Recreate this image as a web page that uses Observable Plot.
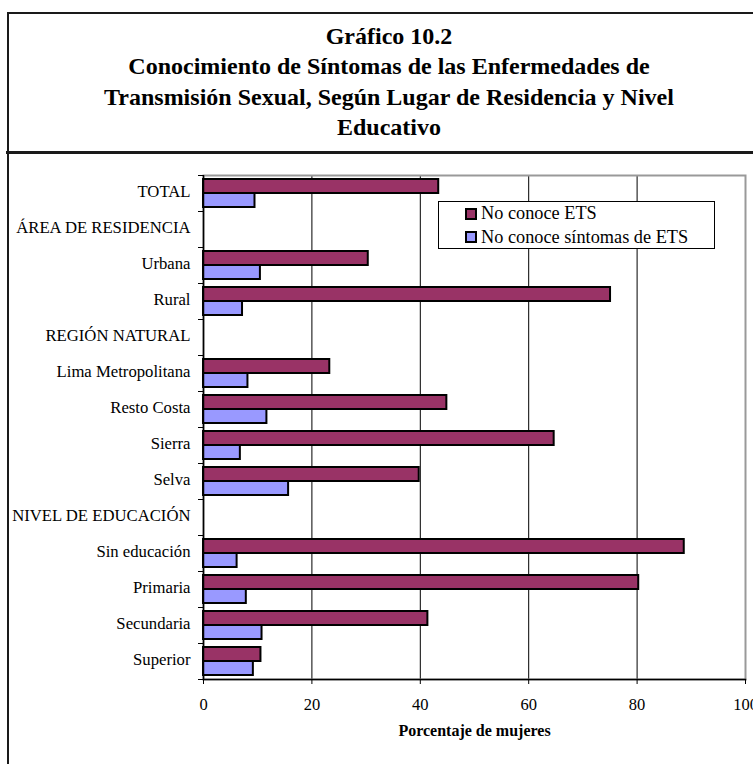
<!DOCTYPE html>
<html>
<head>
<meta charset="utf-8">
<script src="https://cdn.jsdelivr.net/npm/d3@7"></script>
<script src="https://cdn.jsdelivr.net/npm/@observablehq/plot@0.6"></script>
<style>
  html, body { margin: 0; padding: 0; background: #fff; width: 753px; height: 764px; overflow: hidden; }
  body { position: relative; font-family: "Liberation Serif", "Times New Roman", serif; color: #000; }
  .line { position: absolute; background: #1a1a1a; z-index: 6; }
  #title { position: absolute; left: 8px; top: 20.7px; width: 762px; text-align: center;
           font-weight: bold; font-size: 24px; line-height: 30.4px; z-index: 4; }
  #chart { position: absolute; left: 0; top: 153px; z-index: 1; }
  #legend { position: absolute; left: 438px; top: 201px; width: 277px; height: 48px; box-sizing: border-box;
            border: 1px solid #000; background: #fff; z-index: 3; }
  .lrow { position: absolute; left: 26px; height: 22px; display: flex; align-items: center;
          font-size: 18.3px; white-space: nowrap; }
  .sw { width: 12px; height: 12px; box-sizing: border-box; border: 2px solid #000; margin-right: 4px; }
</style>
</head>
<body>
<div class="line" style="left:7px; top:12px; width:1.5px; height:760px;"></div>
<div class="line" style="left:7px; top:12px; width:760px; height:1.5px;"></div>
<div class="line" style="left:6px; top:151px; width:760px; height:2.5px;"></div>
<div id="title"></div>
<div id="chart"></div>
<div id="legend"></div>
<script>
// ---- data ----
const titleLines = [
  "Gráfico 10.2",
  "Conocimiento de Síntomas de las Enfermedades de",
  "Transmisión Sexual, Según Lugar de Residencia y Nivel",
  "Educativo"
];
const categories = [
  "TOTAL", "ÁREA DE RESIDENCIA", "Urbana", "Rural", "REGIÓN NATURAL",
  "Lima Metropolitana", "Resto Costa", "Sierra", "Selva", "NIVEL DE EDUCACIÓN",
  "Sin educación", "Primaria", "Secundaria", "Superior"
];
const seriesNames = ["No conoce ETS", "No conoce síntomas de ETS"];
const noConoceETS      = [43.4, null, 30.4, 75.1, null, 23.3, 44.9, 64.7, 39.8, null, 88.7, 80.3, 41.4, 10.6];
const noConoceSintomas = [ 9.5, null, 10.5,  7.2, null,  8.2, 11.7,  6.8, 15.7, null,  6.2,  7.9, 10.8,  9.2];
const xTicks = [0, 20, 40, 60, 80, 100];
const xTitle = "Porcentaje de mujeres";
const colors = ["#993366", "#9999FF"];

// ---- title ----
document.getElementById("title").innerHTML = titleLines.map(t => `<div>${t}</div>`).join("");

// ---- table ----
const rows = categories.map((c, i) => ({cat: c, ets: noConoceETS[i], sin: noConoceSintomas[i]}));
const etsRows = rows.filter(d => d.ets != null);
const sinRows = rows.filter(d => d.sin != null);

const chart = Plot.plot({
  width: 753,
  height: 611,
  marginTop: 22,
  marginBottom: 85,
  marginLeft: 203,
  marginRight: 8,
  style: {fontFamily: "'Liberation Serif', 'Times New Roman', serif", fontSize: "16.7px", color: "#000", background: "transparent", overflow: "visible"},
  x: {domain: [0, 100]},
  y: {domain: categories, padding: 0},
  marks: [
    Plot.gridX(xTicks.slice(1, -1), {stroke: "#000", strokeOpacity: 1, strokeWidth: 1}),
    Plot.frame({stroke: "#999", strokeWidth: 2}),
    Plot.barX(etsRows, {x: "ets", y: "cat", fill: colors[0], stroke: "#000", strokeWidth: 2, insetTop: 4, insetBottom: 18}),
    Plot.barX(sinRows, {x: "sin", y: "cat", fill: colors[1], stroke: "#000", strokeWidth: 2, insetTop: 18, insetBottom: 4}),
    Plot.ruleX([0], {stroke: "#000", strokeWidth: 1.5}),
    Plot.frame({anchor: "bottom", stroke: "#000", strokeWidth: 1.5}),
    Plot.axisX({ticks: xTicks, tickSize: 5, tickPadding: 14, fontSize: 16.5, label: null, stroke: "#000"}),
    Plot.axisY({tickSize: 0, tickPadding: 13, fontSize: 16.7, label: null, dy: -1.5}),
    Plot.axisY({tickSize: 5, tickFormat: () => "", label: null, dy: -18, stroke: "#000"}),
    Plot.axisY({ticks: categories.slice(-1), tickSize: 5, tickFormat: () => "", label: null, dy: 18, stroke: "#000"}),
    Plot.text([xTitle], {frameAnchor: "bottom", dy: 56, fontWeight: "bold", fontSize: 16})
  ]
});
document.getElementById("chart").appendChild(chart);

// ---- legend ----
const legend = document.getElementById("legend");
const rowCenters = [11.5, 35];
seriesNames.forEach((name, i) => {
  const r = document.createElement("div");
  r.className = "lrow";
  r.style.top = (rowCenters[i] - 11) + "px";
  r.innerHTML = `<div class="sw" style="background:${colors[i]}"></div><span>${name}</span>`;
  legend.appendChild(r);
});
</script>
</body>
</html>
